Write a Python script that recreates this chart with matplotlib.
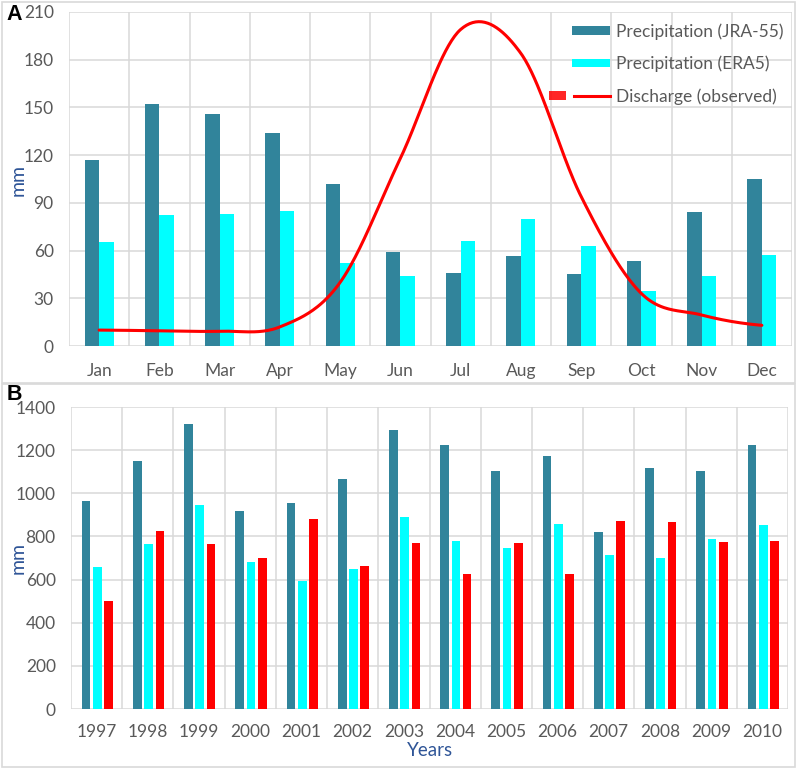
import numpy as np
import matplotlib
matplotlib.use("Agg")
import matplotlib.pyplot as plt
from matplotlib.patches import Rectangle, Patch
from matplotlib.lines import Line2D
from matplotlib.legend_handler import HandlerBase

plt.rcParams['font.family'] = ['Lato', 'DejaVu Sans']

# ---- Data: panel A (monthly) ----
months = ['Jan', 'Feb', 'Mar', 'Apr', 'May', 'Jun', 'Jul', 'Aug', 'Sep', 'Oct', 'Nov', 'Dec']
jra_month = [117, 152, 146, 134, 102, 59, 46, 56.5, 45, 53.5, 84, 105]
era_month = [65.5, 82.5, 83, 85, 52.5, 44, 66, 80, 63, 34.5, 44, 57]
discharge_month = [10, 9.6, 9.3, 12, 40, 118, 199, 184, 94, 33, 19.5, 13]

# ---- Data: panel B (annual) ----
years = ['1997', '1998', '1999', '2000', '2001', '2002', '2003',
         '2004', '2005', '2006', '2007', '2008', '2009', '2010']
jra_year = [965, 1151, 1321, 918, 954, 1065, 1292, 1224, 1104, 1171, 821, 1116, 1102, 1224]
era_year = [656, 766, 946, 681, 593, 648, 890, 781, 746, 858, 716, 702, 787, 852]
dis_year = [499, 824, 764, 702, 883, 664, 769, 624, 770, 625, 871, 867, 775, 778]

C_JRA = '#31849B'
C_ERA = '#00FFFF'
C_DIS = '#FF0000'
C_TXT = '#595959'
C_LAB = '#2F5597'
C_GRID = '#D9D9D9'

W, H = 796, 770
fig = plt.figure(figsize=(W / 100, H / 100), dpi=100)


def px_axes(l, t, r, b):
    return fig.add_axes([l / W, 1 - b / H, (r - l) / W, (b - t) / H])


def style_axes(ax, n, ymax, ystep, labels, pad):
    ax.set_xlim(-0.5, n - 0.5)
    ax.set_ylim(0, ymax)
    ax.set_yticks(np.arange(0, ymax + 1, ystep))
    ax.set_xticks(np.arange(n))
    ax.set_xticklabels(labels)
    ax.set_xticks(np.arange(-0.5, n, 1), minor=True)
    for s in ax.spines.values():
        s.set_visible(False)
    ax.grid(True, axis='y', which='major', color=C_GRID, lw=1.1)
    ax.grid(True, axis='x', which='minor', color=C_GRID, lw=1.1)
    ax.grid(False, axis='x', which='major')
    ax.set_axisbelow(True)
    ax.tick_params(axis='both', which='both', length=0, colors=C_TXT, labelsize=12.5)
    ax.tick_params(axis='x', pad=pad)
    ax.tick_params(axis='y', pad=11)


# ---- Panel A ----
axA = px_axes(69, 12, 792, 346)
x = np.arange(len(months))
wA = 0.24
axA.bar(x - wA / 2, jra_month, wA, color=C_JRA, zorder=2)
axA.bar(x + wA / 2, era_month, wA, color=C_ERA, zorder=2)


def catmull_rom(vals, steps=40):
    v = np.asarray(vals, dtype=float)
    p = np.concatenate([[v[0]], v, [v[-1]]])
    xs, ys = [], []
    for i in range(len(v) - 1):
        p0, p1, p2, p3 = p[i], p[i + 1], p[i + 2], p[i + 3]
        m1 = (p2 - p0) / 2
        m2 = (p3 - p1) / 2
        t = np.linspace(0, 1, steps, endpoint=(i == len(v) - 2))
        h00 = 2 * t**3 - 3 * t**2 + 1
        h10 = t**3 - 2 * t**2 + t
        h01 = -2 * t**3 + 3 * t**2
        h11 = t**3 - t**2
        xs.append(i + t)
        ys.append(h00 * p1 + h10 * m1 + h01 * p2 + h11 * m2)
    return np.concatenate(xs), np.concatenate(ys)


sx, sy = catmull_rom(discharge_month)
axA.plot(sx, sy, color=C_DIS, lw=2.2, zorder=3, solid_capstyle='round')
style_axes(axA, 12, 210, 30, months, 12)


class PatchLineHandler(HandlerBase):
    def create_artists(self, legend, orig_handle, xdescent, ydescent,
                       width, height, fontsize, trans):
        yc = -ydescent + height / 2
        r = Rectangle((-xdescent - 0.62 * width, yc - 3.0), 0.45 * width, 6.0,
                      facecolor=C_DIS, edgecolor='none', alpha=0.85, transform=trans)
        ln = Line2D([-xdescent + 0.05 * width, -xdescent + width], [yc, yc],
                    color=C_DIS, lw=2.2, transform=trans)
        return [r, ln]


class PatchHandler(HandlerBase):
    def create_artists(self, legend, orig_handle, xdescent, ydescent,
                       width, height, fontsize, trans):
        yc = -ydescent + height / 2
        r = Rectangle((-xdescent, yc - 3.0), width, 6.0,
                      facecolor=orig_handle.get_facecolor(), edgecolor='none', transform=trans)
        return [r]


h1 = Patch(facecolor=C_JRA)
h2 = Patch(facecolor=C_ERA)
h3 = Line2D([], [], color=C_DIS)
leg = axA.legend([h1, h2, h3],
                 ['Precipitation (JRA-55)', 'Precipitation (ERA5)', 'Discharge (observed)'],
                 handler_map={Patch: PatchHandler(), Line2D: PatchLineHandler()},
                 loc='upper right', bbox_to_anchor=(784 / W, 1 - 23 / H),
                 bbox_transform=fig.transFigure, frameon=False, fontsize=12.5,
                 handlelength=2.2, handletextpad=0.35, labelspacing=0.92,
                 borderpad=0, borderaxespad=0)
for t in leg.get_texts():
    t.set_color(C_TXT)

# ---- Panel B ----
axB = px_axes(71, 407, 788, 709)
xb = np.arange(len(years))
wB = 0.17
axB.bar(xb - 0.205, jra_year, wB, color=C_JRA, zorder=2)
axB.bar(xb + 0.015, era_year, wB, color=C_ERA, zorder=2)
axB.bar(xb + 0.235, dis_year, wB, color=C_DIS, zorder=2)
style_axes(axB, 14, 1400, 200, years, 11)
axB.set_xlabel('Years', color=C_LAB, fontsize=13.5, labelpad=1)

# axis titles
fig.text(18 / W, 1 - 180 / H, 'mm', rotation=90, color=C_LAB, fontsize=14,
         ha='center', va='center')
fig.text(18 / W, 1 - 558 / H, 'mm', rotation=90, color=C_LAB, fontsize=14,
         ha='center', va='center')

# panel labels and borders
fig.text(14.5 / W, 1 - 15 / H, 'A', fontsize=15.5, fontweight='bold', ha='center', va='center',
         family=['Liberation Sans', 'DejaVu Sans'])
fig.text(14.0 / W, 1 - 395 / H, 'B', fontsize=15.5, fontweight='bold', ha='center', va='center',
         family=['Liberation Sans', 'DejaVu Sans'])
fig.add_artist(Rectangle((1.5 / W, 1 - 383 / H), 793 / W, 381.5 / H, transform=fig.transFigure,
                         fill=False, edgecolor=C_GRID, lw=1.2))
fig.add_artist(Rectangle((1.5 / W, 1 - 767 / H), 793 / W, 383 / H, transform=fig.transFigure,
                         fill=False, edgecolor=C_GRID, lw=1.2))

fig.savefig('out.png', dpi=100)
